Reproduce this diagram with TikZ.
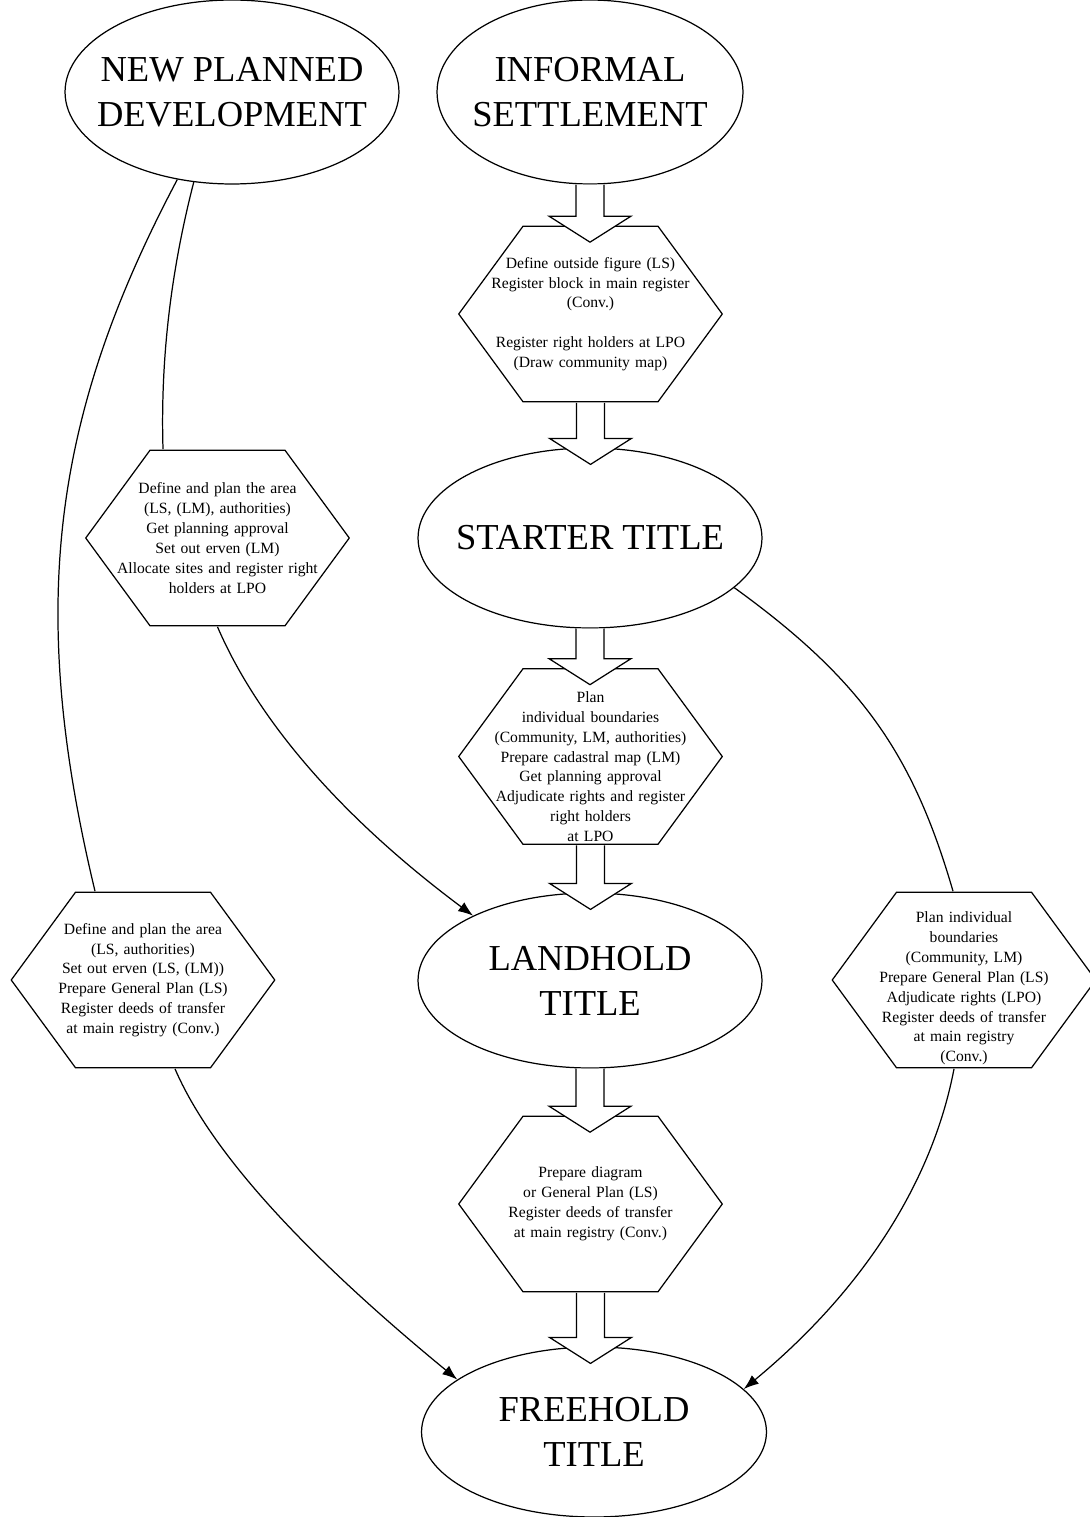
\documentclass[tikz,border=0pt]{standalone}
\usepackage{fontspec}
\setmainfont{Liberation Serif}
\usetikzlibrary{shapes.geometric,arrows.meta,calc}

\newcommand{\bigtxt}{\fontsize{20.8}{25.6}\selectfont}
\newcommand{\smalltxt}{\fontsize{8.9}{11.3}\selectfont}

\tikzset{
  oval/.style={ellipse,draw,line width=0.7pt,inner sep=0pt},
  ovaltext/.style={font=\bigtxt,align=center,inner sep=0pt},
  hexbox/.style={minimum width=5.3cm,minimum height=3.54cm,inner sep=0pt,
    text width=5cm,align=center,font=\smalltxt,
    path picture={\draw[line width=0.7pt,line join=miter]
      ([xshift=0.4pt]path picture bounding box.west)
      -- ([xshift=1.3cm,yshift=-0.4pt]path picture bounding box.north west)
      -- ([xshift=-1.3cm,yshift=-0.4pt]path picture bounding box.north east)
      -- ([xshift=-0.4pt]path picture bounding box.east)
      -- ([xshift=-1.3cm,yshift=0.4pt]path picture bounding box.south east)
      -- ([xshift=1.3cm,yshift=0.4pt]path picture bounding box.south west)
      -- cycle;}},
  link/.style={line width=0.7pt},
  linkarrow/.style={line width=0.7pt,-{Latex[length=0.3cm,width=0.22cm]}},
  blockarrow/.style={draw,fill=white,line width=0.7pt,line join=miter}
}

\begin{document}
\begin{tikzpicture}[x=0.02cm,y=-0.02cm]
\useasboundingbox (0,0) rectangle (1089,1517);

\node[oval,minimum width=6.68cm,minimum height=3.68cm,
  label={[ovaltext]center:NEW PLANNED\\DEVELOPMENT}] (newplan) at (232,92) {};
\node[oval,minimum width=6.12cm,minimum height=3.68cm,
  label={[ovaltext]center:INFORMAL\\SETTLEMENT}] (informal) at (590,92) {};
\node[oval,minimum width=6.88cm,minimum height=3.6cm,
  label={[ovaltext]center:STARTER TITLE}] (starter) at (590,538) {};
\node[oval,minimum width=6.88cm,minimum height=3.5cm,
  label={[ovaltext]center:LANDHOLD\\TITLE}] (landhold) at (590,980.5) {};
\node[oval,minimum width=6.9cm,minimum height=3.4cm,
  label={[ovaltext]center:FREEHOLD\\TITLE}] (freehold) at (594,1432) {};

\node[hexbox] (outside) at (590.5,314) {Define outside figure (LS)\\Register block in main register\\(Conv.)\\[11.3pt]Register right holders at LPO\\(Draw community map)};
\node[hexbox] (defarea) at (217.5,538) {Define and plan the area\\(LS, (LM), authorities)\\Get planning approval\\Set out erven (LM)\\Allocate sites and register right\\holders at LPO};
\node[hexbox] (planbound) at (590.5,756.5) {\rule{0pt}{0.62cm}Plan\\individual boundaries\\(Community, LM, authorities)\\Prepare cadastral map (LM)\\Get planning approval\\Adjudicate rights and register\\right holders\\at LPO};
\node[hexbox] (defgeneral) at (143,980) {Define and plan the area\\(LS, authorities)\\Set out erven (LS, (LM))\\Prepare General Plan (LS)\\Register deeds of transfer\\at main registry (Conv.)};
\node[hexbox] (planindiv) at (964,980) {\rule{0pt}{0.56cm}Plan individual\\boundaries\\(Community, LM)\\Prepare General Plan (LS)\\Adjudicate rights (LPO)\\Register deeds of transfer\\at main registry\\(Conv.)};
\node[hexbox] (prepdiag) at (590.5,1204) {Prepare diagram\\or General Plan (LS)\\Register deeds of transfer\\at main registry (Conv.)};

\draw[link] (newplan.247.4) to[out=-104.4,in=91.7,out distance=1.93cm,in distance=1.72cm] ([xshift=-1.09cm]defarea.north);
\draw[linkarrow] (defarea.south) to[out=-66.7,in=143.3,out distance=2.04cm,in distance=3.29cm] (landhold.151);
\draw[link] (newplan.238.5) to[out=-117.9,in=103.5,out distance=5.4cm,in distance=5.8cm] ([xshift=-0.96cm]defgeneral.north);
\draw[linkarrow] ([xshift=0.64cm]defgeneral.south) to[out=-66.7,in=140.6,out distance=1.85cm,in distance=3.88cm] (freehold.159.6);
\draw[link] (starter.-19.3) to[out=-35.9,in=106.2,out distance=3.1cm,in distance=2.9cm] ([xshift=-0.22cm]planindiv.north);
\draw[linkarrow] ([xshift=-0.2cm]planindiv.south) to[out=-100.8,in=39.6,out distance=2.34cm,in distance=3.05cm] (freehold.16.6);

\foreach \from/\to in {informal/outside,outside/starter,starter/planbound,planbound/landhold,landhold/prepdiag,prepdiag/freehold}
  \draw[blockarrow] let \p1=(\from.south), \p2=(\to.north) in
    (\x1-0.28cm,\y1) -- (\x1-0.28cm,\y2+0.18cm) -- (\x1-0.82cm,\y2+0.18cm) -- (\x1,\y2-0.34cm)
    -- (\x1+0.82cm,\y2+0.18cm) -- (\x1+0.28cm,\y2+0.18cm) -- (\x1+0.28cm,\y1);
\end{tikzpicture}
\end{document}
